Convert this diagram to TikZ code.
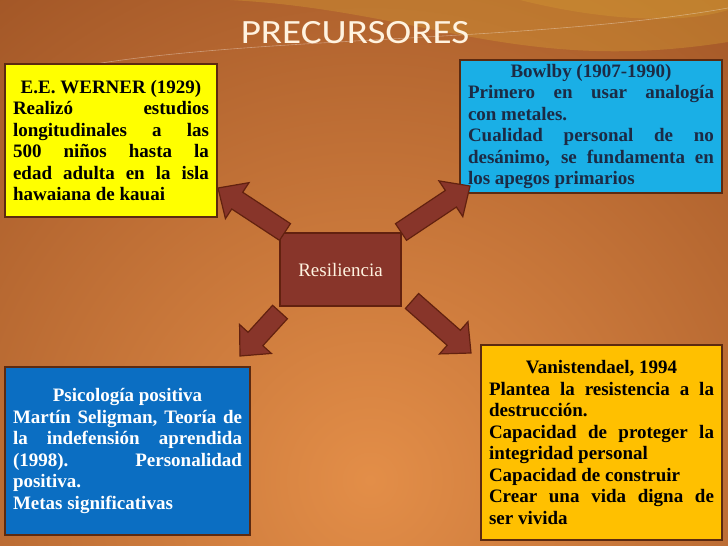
\documentclass[tikz,border=0pt]{standalone}
\usepackage{fontspec}
\setmainfont{Liberation Serif}
\newfontfamily\titlefont[FakeStretch=1.15]{Carlito}
\usepackage{xcolor}
\usetikzlibrary{calc}

\definecolor{bgdark}{HTML}{7A3412}
\definecolor{bglight}{HTML}{E38E48}
\definecolor{swoosh}{HTML}{D9A235}
\definecolor{boxedge}{HTML}{5C2A10}
\definecolor{wernerfill}{HTML}{FFFF00}
\definecolor{bowlbyfill}{HTML}{1AAFE6}
\definecolor{bowlbytext}{HTML}{1C2B45}
\definecolor{seligfill}{HTML}{0B6EC2}
\definecolor{vanistfill}{HTML}{FFC000}
\definecolor{resilfill}{HTML}{88352A}
\definecolor{resiledge}{HTML}{62210F}
\definecolor{titletext}{HTML}{FFF3E0}

\tolerance=10000
\hbadness=10000
\hyphenpenalty=10000

% block arrow from foot #1 to tip #2
\newcommand\blockarrow[2]{%
  \path ($(#2)!23pt!(#1)$) coordinate (headbase);
  \draw[bigarrow] ($(#1)!10pt!-90:(#2)$) -- ($(headbase)!10pt!-90:(#2)$)
    -- ($(headbase)!21.5pt!-90:(#2)$) -- (#2) -- ($(headbase)!21.5pt!90:(#2)$)
    -- ($(headbase)!10pt!90:(#2)$) -- ($(#1)!10pt!90:(#2)$) -- cycle;}

\begin{document}
\begin{tikzpicture}[
  x=1pt,
  y=1pt,
  textbox/.style={
    draw=boxedge,
    line width=1.5pt,
    inner xsep=8pt,
    inner ysep=0pt,
    align=justify,
    font=\fontsize{19}{21.5}\selectfont\bfseries
  },
  bigarrow/.style={
    draw=resiledge,
    fill=resilfill,
    line width=1.2pt,
    line join=miter
  }
]
  \useasboundingbox (0,0) rectangle (728,-546);
  \begin{scope}
    \clip (0,0) rectangle (728,-546);
    \shade[inner color=bglight, outer color=bgdark] (370,-480) circle (1000);
    \fill[swoosh, opacity=.35] (230,0) .. controls (420,-10) and (520,-75) .. (728,-42)
      -- (728,0) -- cycle;
    \fill[swoosh, opacity=.3] (520,0) .. controls (600,-20) and (680,-25) .. (728,-10)
      -- (728,0) -- cycle;
    \draw[white, opacity=.35, line width=.6pt] (40,-75) .. controls (200,-35) and (520,-45) .. (728,-8);
  \end{scope}

  \node[font=\titlefont\fontsize{34}{40}\selectfont, text=titletext, anchor=base]
    (title) at (355,-43.5) {PRECURSORES};

  \node[textbox, fill=wernerfill, text width=196pt, minimum height=153pt]
    (werner) at (111,-140.5) {%
    {\centering E.E. WERNER (1929)\par}
    Realizó estudios\linebreak longitudinales a las\linebreak 500 niños hasta la\linebreak
    edad adulta en la isla\linebreak hawaiana de kauai};
  \node[textbox, fill=bowlbyfill, text=bowlbytext, text width=246pt, minimum height=133pt]
    (bowlby) at (591,-126.5) {%
    {\centering Bowlby (1907-1990)\par}
    Primero en usar analogía\linebreak con metales.\par
    Cualidad personal de no\linebreak desánimo, se fundamenta en\linebreak los apegos primarios};
  \node[textbox, fill=seligfill, text=white, text width=229pt, minimum height=168pt]
    (selig) at (127.5,-451) {%
    {\centering Psicología positiva\par}
    Martín Seligman, Teoría de\linebreak la indefensión aprendida\linebreak
    (1998). Personalidad\linebreak positiva.\par
    Metas significativas};
  \node[textbox, fill=vanistfill, text width=225pt, minimum height=195pt]
    (vanist) at (601.5,-442.5) {%
    {\centering Vanistendael, 1994\par}
    Plantea la resistencia a la\linebreak destrucción.\par
    Capacidad de proteger la\linebreak integridad personal\par
    Capacidad de construir\par
    Crear una vida digna de\linebreak ser vivida\par\vspace*{18pt}};

  \node[draw=resiledge, fill=resilfill, line width=1.5pt, text=titletext,
    minimum width=121pt, minimum height=73pt, font=\fontsize{19}{21.5}\selectfont]
    (resil) at (340.5,-269.5) {Resiliencia};

  \coordinate (tlfoot) at (285,-232);
  \coordinate (tltip) at (218,-188);
  \coordinate (trfoot) at (401,-232);
  \coordinate (trtip) at (470,-186);
  \coordinate (blfoot) at (280,-312);
  \coordinate (bltip) at (240,-356);
  \coordinate (brfoot) at (412,-301);
  \coordinate (brtip) at (471,-353);
  \blockarrow{tlfoot}{tltip}
  \blockarrow{trfoot}{trtip}
  \blockarrow{blfoot}{bltip}
  \blockarrow{brfoot}{brtip}
\end{tikzpicture}
\end{document}
